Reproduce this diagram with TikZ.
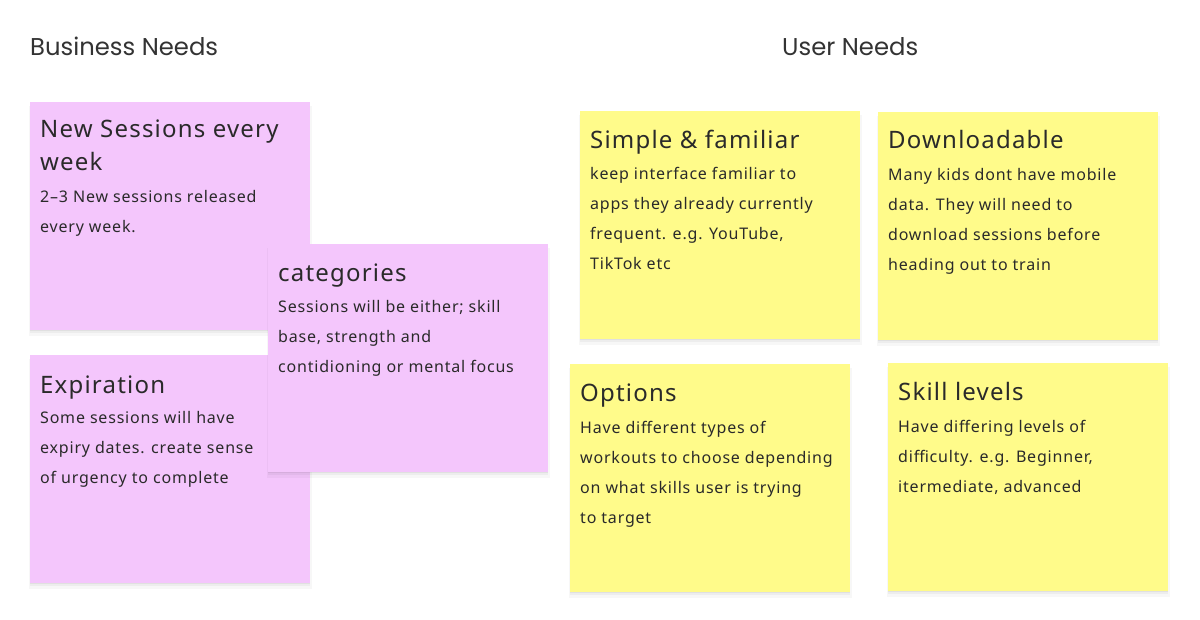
\documentclass[tikz,border=0pt]{standalone}
\usepackage{fontspec}
\setmainfont{Noto Sans}
\newfontfamily\notefont[LetterSpace=5]{Noto Sans}
\newfontfamily\hdrfont{Poppins}
\usetikzlibrary{shadows}
\definecolor{pinknote}{HTML}{F4C6FC}
\definecolor{yellownote}{HTML}{FFFB8A}
\definecolor{ink}{HTML}{2A2A2A}
\definecolor{hdrink}{HTML}{333333}
\tikzset{
  note/.style={rectangle, draw=none, minimum width=280pt, minimum height=228pt, inner sep=0pt, anchor=north west,
    drop shadow={shadow xshift=0pt, shadow yshift=-1pt, opacity=0.05, fill=black},
    drop shadow={shadow xshift=0pt, shadow yshift=-3pt, opacity=0.04, fill=black},
    drop shadow={shadow xshift=0pt, shadow yshift=-5pt, shadow scale=1.01, opacity=0.03, fill=black}},
  pinkn/.style={note, fill=pinknote},
  yelln/.style={note, fill=yellownote},
  ttl/.style={anchor=base west, inner sep=0pt, text=ink, font=\notefont\fontsize{24}{33}\selectfont},
  bdy/.style={anchor=base west, inner sep=0pt, text=ink, font=\notefont\fontsize{16}{30}\selectfont},
  hdr/.style={anchor=base west, inner sep=0pt, text=hdrink, font=\hdrfont\fontsize{24.3}{28}\selectfont}
}
\newcommand\mylines[2]{\vtop{\baselineskip=#1\lineskiplimit=-100pt #2}}
\begin{document}
\begin{tikzpicture}[x=1pt, y=-1pt]
\useasboundingbox (0,0) rectangle (1200,620);
\fill[white] (0,0) rectangle (1200,620);

\node[hdr] (hb) at (30,56) {Business Needs};
\node[hdr] (hu) at (782,56) {User Needs};

% pink notes
\node[pinkn] (n1) at (30,102) {};
\node[pinkn] (n3) at (30,355) {};
\node[pinkn] (n2) at (268,244) {};

\node[ttl] (n1t) at ([shift={(10,36)}]n1.north west) {\mylines{33pt}{\hbox{New Sessions every}\hbox{week}}};
\node[bdy] (n1b) at ([shift={(10,101)}]n1.north west) {\mylines{30pt}{\hbox{2–3 New sessions released}\hbox{every week.}}};

\node[ttl] (n2t) at ([shift={(10,38)}]n2.north west) {categories};
\node[bdy] (n2b) at ([shift={(10,69)}]n2.north west) {\mylines{30pt}{\hbox{Sessions will be either; skill}\hbox{base, strength and}\hbox{contidioning or mental focus}}};

\node[ttl] (n3t) at ([shift={(10,38)}]n3.north west) {Expiration};
\node[bdy] (n3b) at ([shift={(10,69)}]n3.north west) {\mylines{30pt}{\hbox{Some sessions will have}\hbox{expiry dates. create sense}\hbox{of urgency to complete}}};

% yellow notes
\node[yelln] (y1) at (580,111) {};
\node[yelln] (y2) at (878,112) {};
\node[yelln] (y3) at (570,364) {};
\node[yelln] (y4) at (888,363) {};

\node[ttl] (y1t) at ([shift={(10,38)}]y1.north west) {Simple \& familiar};
\node[bdy] (y1b) at ([shift={(10,69)}]y1.north west) {\mylines{30pt}{\hbox{keep interface familiar to}\hbox{apps they already currently}\hbox{frequent. e.g. YouTube,}\hbox{TikTok etc}}};

\node[ttl] (y2t) at ([shift={(10,37)}]y2.north west) {Downloadable};
\node[bdy] (y2b) at ([shift={(10,69)}]y2.north west) {\mylines{30pt}{\hbox{Many kids dont have mobile}\hbox{data. They will need to}\hbox{download sessions before}\hbox{heading out to train}}};

\node[ttl] (y3t) at ([shift={(10,37)}]y3.north west) {Options};
\node[bdy] (y3b) at ([shift={(10,69)}]y3.north west) {\mylines{30pt}{\hbox{Have different types of}\hbox{workouts to choose depending}\hbox{on what skills user is trying}\hbox{to target}}};

\node[ttl] (y4t) at ([shift={(10,37)}]y4.north west) {Skill levels};
\node[bdy] (y4b) at ([shift={(10,69)}]y4.north west) {\mylines{30pt}{\hbox{Have differing levels of}\hbox{difficulty. e.g. Beginner,}\hbox{itermediate, advanced}}};
\end{tikzpicture}
\end{document}
